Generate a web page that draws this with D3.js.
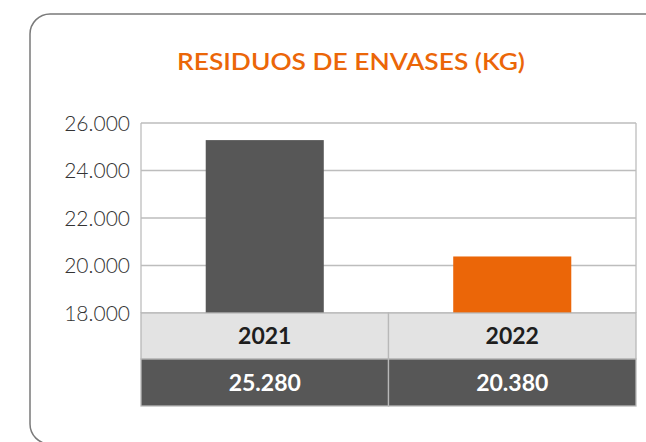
<!DOCTYPE html>
<html>
<head>
<meta charset="utf-8">
<script src="https://cdn.jsdelivr.net/npm/d3@7"></script>
<style>
  body { margin: 0; background: #fff; }
  svg { display: block; }
</style>
</head>
<body>
<div id="chart"></div>
<script>
// data
const years = ["2021", "2022"];
const values = [25280, 20380];
const valueLabels = ["25.280", "20.380"];
const yTicks = [18000, 20000, 22000, 24000, 26000];
const barColors = ["#575757", "#eb6608"];

const W = 646, H = 442;
const margin = { top: 123, right: 10, bottom: 129, left: 141 };
const width = 636 - margin.left, height = 313 - margin.top;

const svg = d3.select("#chart").append("svg")
  .attr("width", W).attr("height", H);

// rounded frame
svg.append("rect")
  .attr("x", 30).attr("y", 14)
  .attr("width", 660).attr("height", 430)
  .attr("rx", 20).attr("ry", 20)
  .attr("fill", "none")
  .attr("stroke", "#7a7a7a")
  .attr("stroke-width", 1.5);

// title
svg.append("text")
  .attr("x", 351).attr("y", 69.5)
  .attr("text-anchor", "middle")
  .attr("textLength", 348)
  .attr("lengthAdjust", "spacingAndGlyphs")
  .style("font-family", "Lato, 'Open Sans', sans-serif")
  .style("font-weight", 600)
  .style("font-size", "23px")
  .style("fill", "#eb6608")
  .text("RESIDUOS DE ENVASES (KG)");

const g = svg.append("g")
  .attr("transform", "translate(" + margin.left + "," + margin.top + ")");

const x = d3.scaleBand().domain(years).range([0, width])
  .paddingInner(0.523).paddingOuter(0.2615);
const y = d3.scaleLinear().domain([18000, 26000]).range([height, 0]);

// gridlines
g.append("g")
  .selectAll("line")
  .data(yTicks)
  .enter()
  .append("line")
  .attr("x1", 0).attr("x2", width)
  .attr("y1", d => y(d)).attr("y2", d => y(d))
  .attr("stroke", "#bdbdbd")
  .attr("stroke-width", 1.3);

// frame of plot
g.append("line").attr("x1", 0).attr("x2", 0).attr("y1", 0).attr("y2", height)
  .attr("stroke", "#bdbdbd").attr("stroke-width", 1.3);
g.append("line").attr("x1", width).attr("x2", width).attr("y1", 0).attr("y2", height)
  .attr("stroke", "#bdbdbd").attr("stroke-width", 1.3);

// y tick labels
g.append("g")
  .selectAll("text")
  .data(yTicks)
  .enter()
  .append("text")
  .attr("x", -11)
  .attr("y", d => y(d))
  .attr("dy", "0.36em")
  .attr("text-anchor", "end")
  .style("font-family", "Lato, sans-serif")
  .style("font-weight", 300)
  .style("font-size", "21px")
  .style("fill", "#333")
  .text(d => d3.format(",")(d).replace(",", "."));

// bars
g.append("g")
  .selectAll("rect")
  .data(values)
  .enter()
  .append("rect")
  .attr("x", (d, i) => x(years[i]))
  .attr("y", d => y(d))
  .attr("width", x.bandwidth())
  .attr("height", d => height - y(d))
  .attr("fill", (d, i) => barColors[i]);

// data table below
const colW = width / years.length;
const rows = [
  { y: height, h: 46, fill: "#e3e3e3", color: "#1e1e1e", labels: years },
  { y: height + 46, h: 47, fill: "#575757", color: "#ffffff", labels: valueLabels }
];
rows.forEach(r => {
  const row = g.append("g");
  row.selectAll("rect")
    .data(r.labels)
    .enter()
    .append("rect")
    .attr("x", (d, i) => i * colW)
    .attr("y", r.y)
    .attr("width", colW)
    .attr("height", r.h)
    .attr("fill", r.fill)
    .attr("stroke", "#b8b8b8")
    .attr("stroke-width", 1.3);
  row.selectAll("text")
    .data(r.labels)
    .enter()
    .append("text")
    .attr("x", (d, i) => i * colW + colW / 2)
    .attr("y", r.y + r.h / 2)
    .attr("dy", "0.36em")
    .attr("text-anchor", "middle")
    .style("font-family", "Lato, sans-serif")
    .style("font-weight", 700)
    .style("font-size", "23px")
    .style("fill", r.color)
    .text(d => d);
});
</script>
</body>
</html>
